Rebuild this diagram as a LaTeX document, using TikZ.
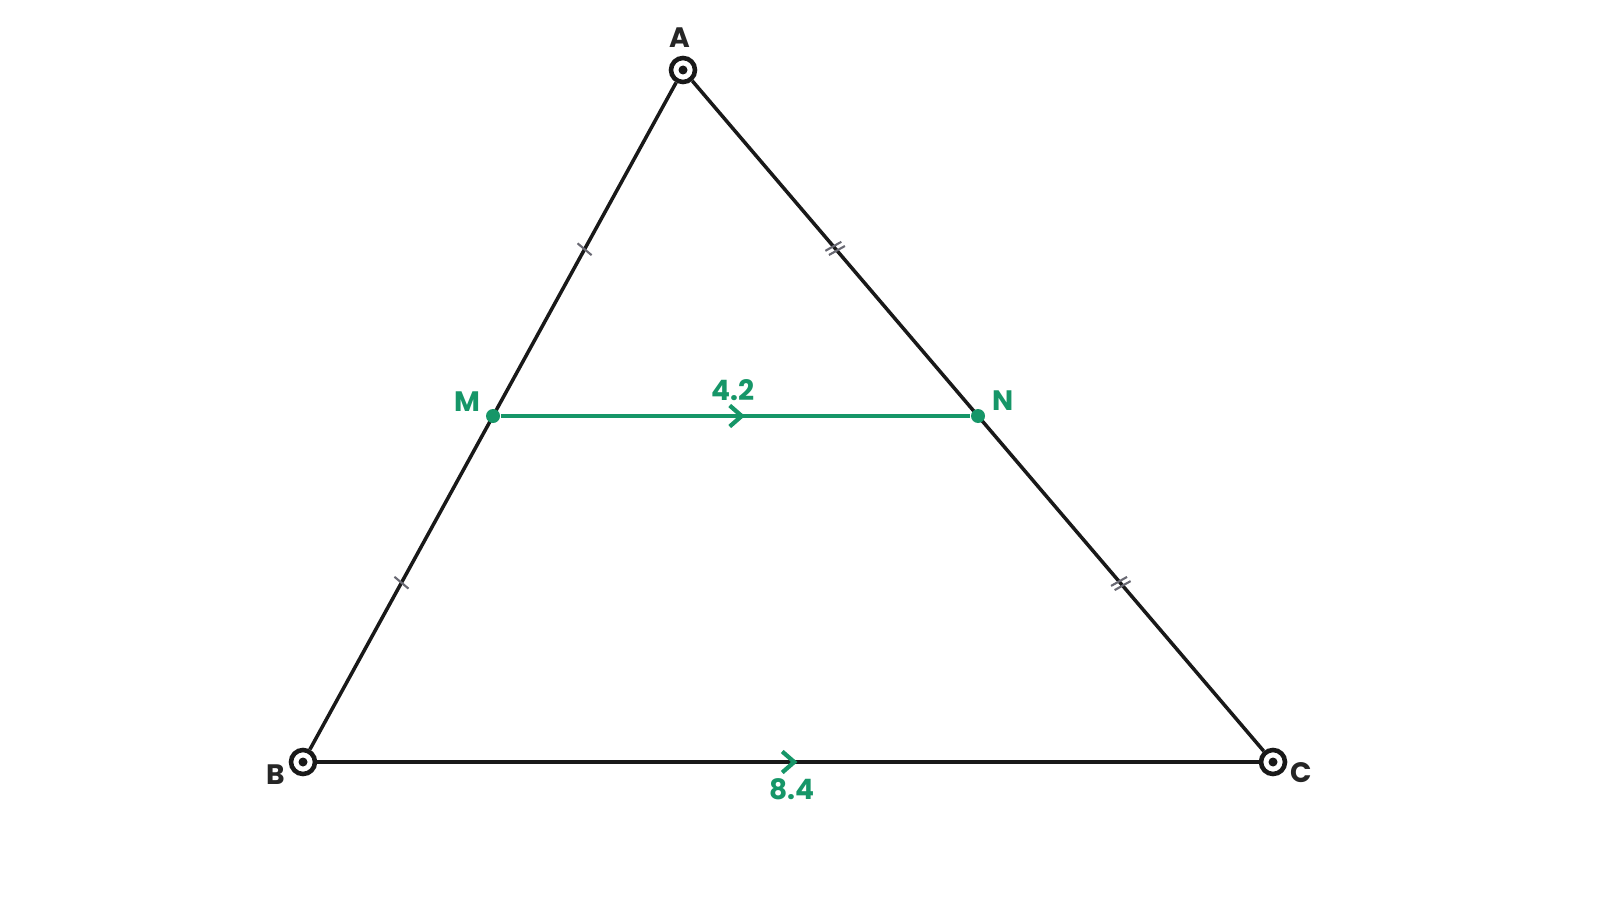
\documentclass[tikz,border=0pt]{standalone}
\usepackage{fontspec}
\setmainfont{Poppins}
\usetikzlibrary{positioning}
\usetikzlibrary{arrows.meta}
\usetikzlibrary{decorations.markings}
\definecolor{segGreen}{RGB}{22,150,104}
\definecolor{tickGray}{RGB}{105,105,115}

\begin{document}
\begin{tikzpicture}[
		vertex/.style={circle, draw=black!90, fill=white, line width=1.3pt, minimum size=0.24cm, inner sep=0pt},
		midpt/.style={circle, fill=segGreen, minimum size=0.14cm, inner sep=0pt},
		lbl/.style={font=\fontsize{8}{10}\selectfont\bfseries, text=black!85, inner sep=0pt},
		glbl/.style={lbl, text=segGreen},
		side/.style={line width=1pt, draw=black!90},
		oneTick/.style={postaction={decorate, decoration={markings, mark=at position #1 with {\draw[tickGray, line width=0.6pt] (-0.018,-0.09) -- (0.018,0.09);}}}},
		twoTick/.style={postaction={decorate, decoration={markings, mark=at position #1 with {\draw[tickGray, line width=0.6pt] (-0.045,-0.09) -- (-0.01,0.09) (0.01,-0.09) -- (0.045,0.09);}}}},
		midArrow/.style={postaction={decorate, decoration={markings, mark=at position #1 with {\arrow[segGreen, line width=1.2pt]{Straight Barb[length=1.2mm, width=2.1mm]}}}}}
	]
		\useasboundingbox (0,0) rectangle (16,9);

		\node[vertex](A) at (6.83,8.30){};
		\node[vertex](B) at (3.03,1.38){};
		\node[vertex](C) at (12.73,1.38){};

		% draw sides
		\draw[side, oneTick=0.25, oneTick=0.75] (A) -- (B);
		\draw[side, twoTick=0.25, twoTick=0.75] (A) -- (C);
		\draw[side, midArrow=0.51] (B) -- (C);

		% vertex dots
		\fill[black!90] (A) circle (0.045);
		\fill[black!90] (B) circle (0.045);
		\fill[black!90] (C) circle (0.045);

		% midsegment
		\node[midpt](M) at (4.93,4.84){};
		\node[midpt](N) at (9.78,4.84){};
		\draw[segGreen, line width=1.4pt, midArrow=0.52] (M) -- (N);

		% labels
		\node[lbl](labA) at (6.80,8.62){A};
		\node[lbl](labB) at (2.76,1.25){B};
		\node[lbl](labC) at (13.01,1.27){C};
		\node[glbl](labM) at (4.67,4.98){M};
		\node[glbl](labN) at (10.03,4.99){N};
		\node[glbl](labMN) at (7.33,5.10){4.2};
		\node[glbl](labBC) at (7.92,1.11){8.4};

	\end{tikzpicture}
\end{document}
